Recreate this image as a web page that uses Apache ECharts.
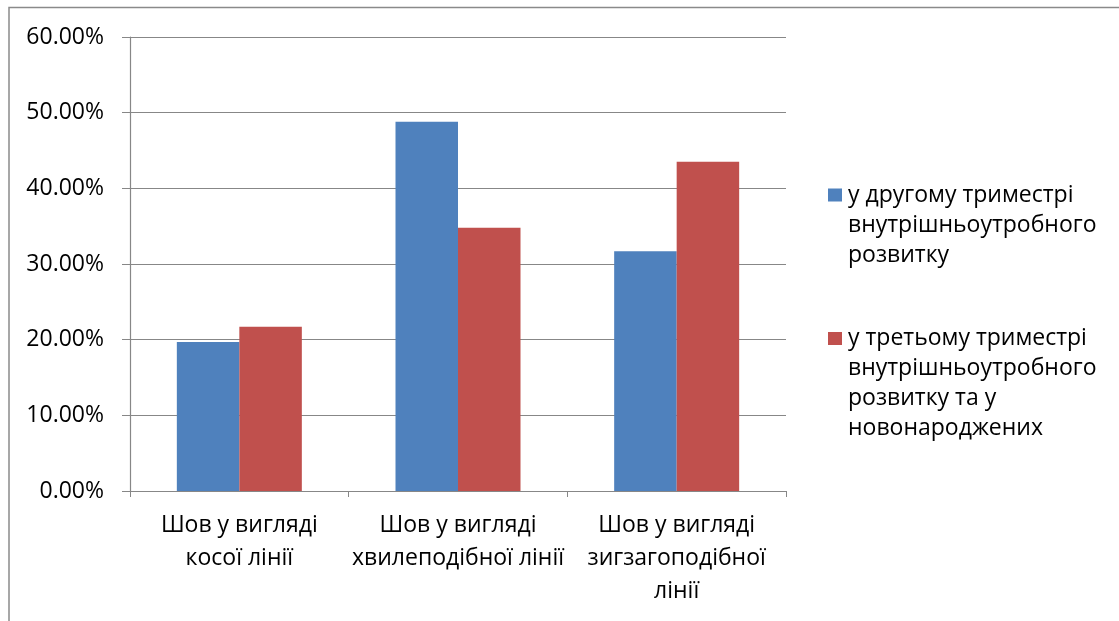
<!DOCTYPE html>
<html>
<head>
<meta charset="utf-8">
<script src="https://cdn.jsdelivr.net/npm/echarts@6/dist/echarts.min.js"></script>
<style>
  html, body { margin: 0; padding: 0; background: #fff; }
  #chart { width: 1119px; height: 621px; }
</style>
</head>
<body>
<div id="chart"></div>
<script>
// Seam types (categories) and the share of each, in percent
const categories = [
  'Шов у вигляді\nкосої лінії',
  'Шов у вигляді\nхвилеподібної лінії',
  'Шов у вигляді\nзигзагоподібної\nлінії'
];
const seriesNames = [
  'у другому триместрі внутрішньоутробного розвитку',
  'у третьому триместрі внутрішньоутробного розвитку та у новонароджених'
];
const legendLabels = [
  'у другому триместрі\nвнутрішньоутробного\nрозвитку',
  'у третьому триместрі\nвнутрішньоутробного\nрозвитку та у\nновонароджених'
];
const secondTrimester = [19.7, 48.8, 31.7];
const thirdTrimester = [21.7, 34.8, 43.5];
const yTicks = { min: 0, max: 60, interval: 10 };

const FONT = 'Open Sans';
const FONT_SIZE = 23;
const TEXT = '#000';
const GRID = '#878787';
const colors = ['#4F81BD', '#C0504D'];

const chart = echarts.init(document.getElementById('chart'), null, { renderer: 'canvas' });

// One legend per series so each block can be placed on its own.
// The swatch is centred on the text block, so empty lines are put in
// front of the label to bring its first line level with the swatch.
function legendFor(i, top) {
  const lines = legendLabels[i].split('\n').length;
  return {
    orient: 'vertical',
    left: 823,
    top: top,
    itemWidth: 14,
    itemHeight: 13,
    itemGap: 0,
    icon: 'rect',
    selectedMode: false,
    data: [seriesNames[i]],
    formatter: function () { return '\n'.repeat(lines - 1) + legendLabels[i]; },
    textStyle: {
      fontFamily: FONT,
      fontSize: FONT_SIZE,
      lineHeight: 30,
      color: TEXT,
      padding: [0, 0, 0, 1]
    }
  };
}

chart.setOption({
  animation: false,
  color: colors,
  graphic: [{
    type: 'polyline',
    shape: { points: [[9, 621], [9, 7.5], [1119, 7.5]] },
    style: { stroke: '#8a8a8a', lineWidth: 1.5, fill: null },
    silent: true
  }],
  grid: { left: 130, right: 333, top: 37, bottom: 130 },
  legend: [
    legendFor(0, 195 - 80),
    legendFor(1, 338.5 - 110)
  ],
  xAxis: {
    type: 'category',
    data: categories,
    axisLine: { lineStyle: { color: GRID, width: 1.2 } },
    axisTick: { show: true, length: 6, lineStyle: { color: GRID } },
    axisLabel: {
      interval: 0,
      margin: 18,
      fontFamily: FONT,
      fontSize: FONT_SIZE,
      lineHeight: 33,
      color: TEXT,
      align: 'center'
    }
  },
  yAxis: {
    type: 'value',
    min: yTicks.min,
    max: yTicks.max,
    interval: yTicks.interval,
    axisLine: { show: true, lineStyle: { color: GRID, width: 1.2 } },
    axisTick: { show: true, length: 8, lineStyle: { color: GRID } },
    splitLine: { lineStyle: { color: GRID, width: 1.2 } },
    axisLabel: {
      margin: 26,
      fontFamily: FONT,
      fontSize: FONT_SIZE,
      color: TEXT,
      formatter: function (v) { return v.toFixed(2) + '%'; }
    }
  },
  series: [
    {
      name: seriesNames[0],
      type: 'bar',
      data: secondTrimester,
      barWidth: 62.5,
      barGap: '0%',
      itemStyle: { color: colors[0] }
    },
    {
      name: seriesNames[1],
      type: 'bar',
      data: thirdTrimester,
      barWidth: 62.5,
      barGap: '0%',
      itemStyle: { color: colors[1] }
    }
  ]
});
</script>
</body>
</html>
